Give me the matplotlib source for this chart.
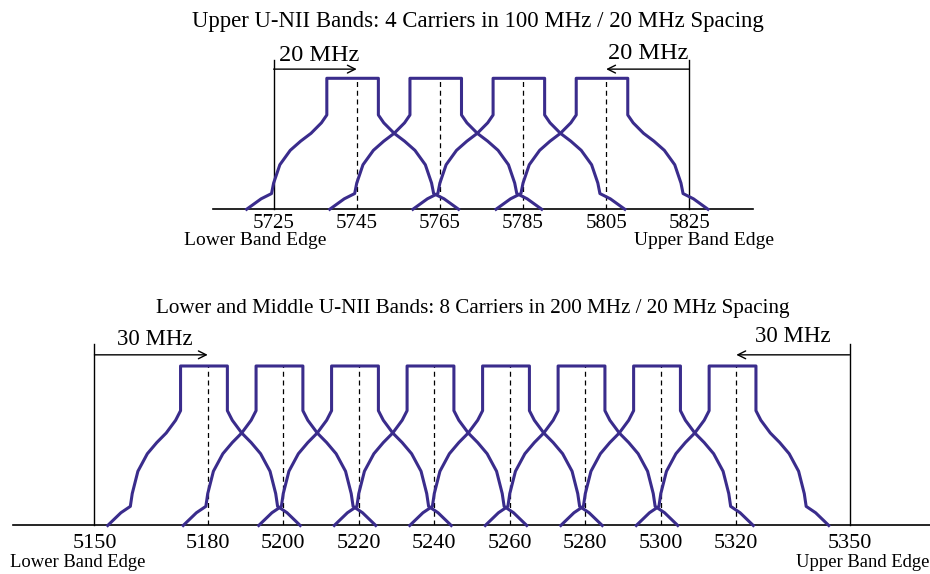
#!/usr/bin/env python3
"""
U-NII band plan: spectral masks of the 20 MHz carriers in the
upper band and in the lower + middle bands.
"""

import numpy as np
import matplotlib
matplotlib.use("Agg")
import matplotlib.pyplot as plt

# --- data ------------------------------------------------------------------
TOP_TITLE = "Upper U-NII Bands: 4 Carriers in 100 MHz / 20 MHz Spacing"
TOP_CARRIERS = [5745, 5765, 5785, 5805]
TOP_EDGES = [5725, 5825]
TOP_GUARD = "20 MHz"

BOT_TITLE = "Lower and Middle U-NII Bands: 8 Carriers in 200 MHz / 20 MHz Spacing"
BOT_CARRIERS = [5180, 5200, 5220, 5240, 5260, 5280, 5300, 5320]
BOT_EDGES = [5150, 5350]
BOT_GUARD = "30 MHz"

EDGE_LABELS = ["Lower Band Edge", "Upper Band Edge"]

# one half of the transmit mask: offset from centre (MHz) and relative level
MASK_OFFSET = [6.2, 6.2, 7.5, 10.0, 12.5, 15.0, 17.5, 19.0, 19.5, 22.0, 25.5]
MASK_LEVEL = [1.0, 0.72, 0.66, 0.58, 0.52, 0.45, 0.34, 0.20, 0.12, 0.08, 0.0]
MASK_SHIFT = -1.0   # masks sit slightly left of the carrier lines

LINE_COLOR = "#3a2c8c"
FONT = "Liberation Serif"

plt.rcParams["font.family"] = [FONT, "DejaVu Serif"]


def draw_band(ax, carriers, edges, guard, xlim, style):
    off = np.array(MASK_OFFSET)
    lvl = np.array(MASK_LEVEL)
    xs_rel = np.concatenate([-off[::-1], off]) + MASK_SHIFT
    ys = np.concatenate([lvl[::-1], lvl])

    for c in carriers:
        ax.plot(c + xs_rel, ys, color=LINE_COLOR, lw=2.2, clip_on=False, zorder=3)
        ax.plot([c, c], [0, 1], color="black", lw=0.9, ls=(0, (4, 3)), zorder=2)

    # band edges with the guard-band arrows
    for e in edges:
        ax.plot([e, e], [0, 1.14], color="black", lw=1.0, clip_on=False)
    arrow = dict(arrowstyle="->", lw=1.0, color="black",
                 shrinkA=0, shrinkB=0, mutation_scale=14)
    ax.annotate("", xy=(carriers[0], 1.07), xytext=(edges[0], 1.07), arrowprops=arrow)
    ax.annotate("", xy=(carriers[-1], 1.07), xytext=(edges[1], 1.07), arrowprops=arrow)
    ax.text((edges[0] + carriers[0]) / 2 + 1, 1.13, guard, ha="center", va="baseline",
            fontsize=style["guard"])
    ax.text((edges[1] + carriers[-1]) / 2, 1.15, guard, ha="center", va="baseline",
            fontsize=style["guard"])

    ticks = [edges[0]] + carriers + [edges[1]]
    ax.set_xticks(ticks, [str(t) for t in ticks])
    ax.tick_params(axis="x", length=0, pad=style["pad"], labelsize=style["tick"])
    ax.set_yticks([])
    ax.set_xlim(*xlim)
    ax.set_ylim(0, 1.22)
    for side in ("top", "left", "right"):
        ax.spines[side].set_visible(False)
    ax.spines["bottom"].set_linewidth(1.2)

    ax.text(edges[0] - 4.5, style["edge_y"], EDGE_LABELS[0], ha="center",
            va="center", fontsize=style["edge"])
    ax.text(edges[1] + 3.5, style["edge_y"], EDGE_LABELS[1], ha="center",
            va="center", fontsize=style["edge"])


def main():
    fig = plt.figure(figsize=(9.3, 5.74), dpi=100)

    ax_top = fig.add_axes([0.2294, 0.6354, 0.5806, 0.2784])
    draw_band(ax_top, TOP_CARRIERS, TOP_EDGES, TOP_GUARD, (5710.5, 5840.4),
              dict(tick=15, pad=3.5, guard=17.5, edge=14, edge_y=-0.235))

    ax_bot = fig.add_axes([0.0143, 0.0845, 0.9857, 0.339])
    draw_band(ax_bot, BOT_CARRIERS, BOT_EDGES, BOT_GUARD, (5128.5, 5371.3),
              dict(tick=16, pad=6, guard=16.5, edge=13.4, edge_y=-0.232))

    fig.text(0.514, 0.9524, TOP_TITLE, ha="center", va="baseline", fontsize=16.4)
    fig.text(0.5086, 0.4542, BOT_TITLE, ha="center", va="baseline", fontsize=15.2)

    fig.savefig("out.png", dpi=100)


if __name__ == "__main__":
    main()
